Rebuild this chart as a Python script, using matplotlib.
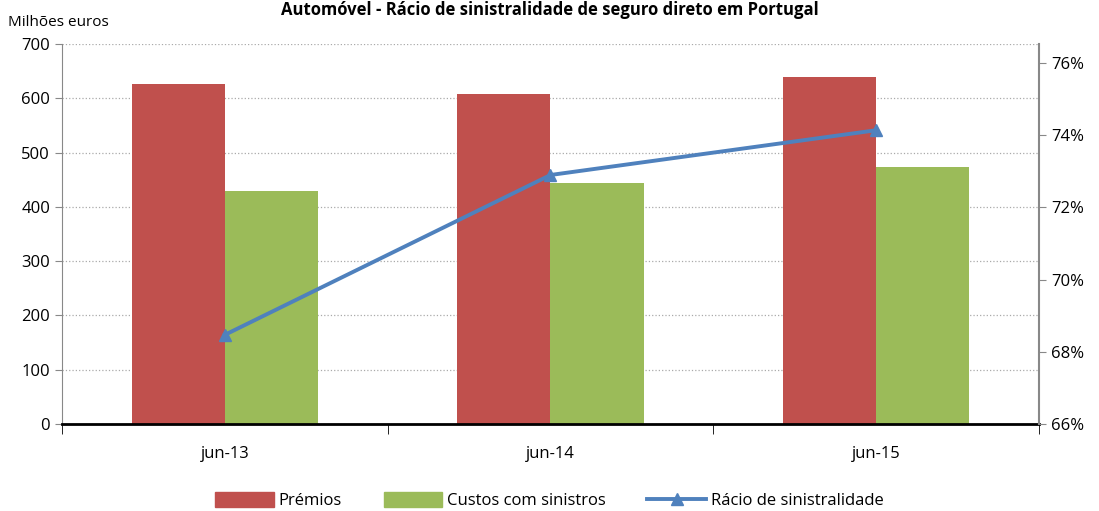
import numpy as np
import matplotlib.pyplot as plt
from matplotlib.patches import Patch
from matplotlib.lines import Line2D

plt.rcParams['font.family'] = ['Open Sans', 'DejaVu Sans']

categories = ['jun-13', 'jun-14', 'jun-15']
premios = [626, 608, 639]
custos = [429, 444, 473]
racio = [68.47, 72.9, 74.14]

red = '#C0504D'
green = '#9BBB59'
blue = '#4F81BD'

fig = plt.figure(figsize=(10.99, 5.11), dpi=100)
ax = fig.add_axes([0.0564, 0.1703, 0.8890, 0.7436])

x = np.arange(len(categories))
w = 0.286
ax.bar(x - w / 2, premios, w, color=red, zorder=2)
ax.bar(x + w / 2, custos, w, color=green, zorder=2)

ax.set_xlim(-0.5, 2.5)
ax.set_ylim(0, 700)
ax.set_yticks(range(0, 701, 100))
ax.yaxis.grid(True, linestyle=':', color='#AAAAAA', linewidth=0.9, zorder=0)
ax.set_xticks(x)
ax.set_xticklabels(categories, fontsize=12)
ax.tick_params(axis='x', length=0, pad=16)
ax.set_xticks([-0.5, 0.5, 1.5, 2.5], minor=True)
ax.tick_params(axis='x', which='minor', length=7, direction='out', color='black')
ax.tick_params(axis='y', labelsize=12, length=5, color='#888888')

ax.spines['top'].set_visible(False)
ax.spines['left'].set_color('#888888')
ax.spines['right'].set_visible(False)
ax.spines['bottom'].set_color('black')
ax.spines['bottom'].set_linewidth(2)
ax.spines['bottom'].set_zorder(5)

ax2 = ax.twinx()
ax2.plot(x, racio, color=blue, linewidth=2.8, marker='^', markersize=8, zorder=4)
ax2.set_ylim(66, 76.53)
ax2.set_yticks([66, 68, 70, 72, 74, 76])
ax2.set_yticklabels([f'{v}%' for v in [66, 68, 70, 72, 74, 76]])
ax2.tick_params(axis='y', labelsize=12, length=5, color='#888888')
for s in ['top', 'left', 'bottom']:
    ax2.spines[s].set_visible(False)
ax2.spines['right'].set_color('#888888')
ax2.spines['right'].set_linewidth(1.5)

fig.text(0.5, 0.999, 'Automóvel - Rácio de sinistralidade de seguro direto em Portugal',
         ha='center', va='top', fontsize=12, fontweight='bold')
fig.text(0.007, 0.955, 'Milhões euros', ha='left', va='center', fontsize=11)

handles = [Patch(color=red, label='Prémios'),
           Patch(color=green, label='Custos com sinistros'),
           Line2D([0], [0], color=blue, linewidth=2.8, marker='^', markersize=8,
                  label='Rácio de sinistralidade')]
fig.legend(handles=handles, loc='center', bbox_to_anchor=(0.5, 0.02), ncol=3,
           frameon=False, fontsize=12, handlelength=3.5, handleheight=1.0,
           columnspacing=2.5, handletextpad=0.3)

fig.savefig('out.png', dpi=100)
